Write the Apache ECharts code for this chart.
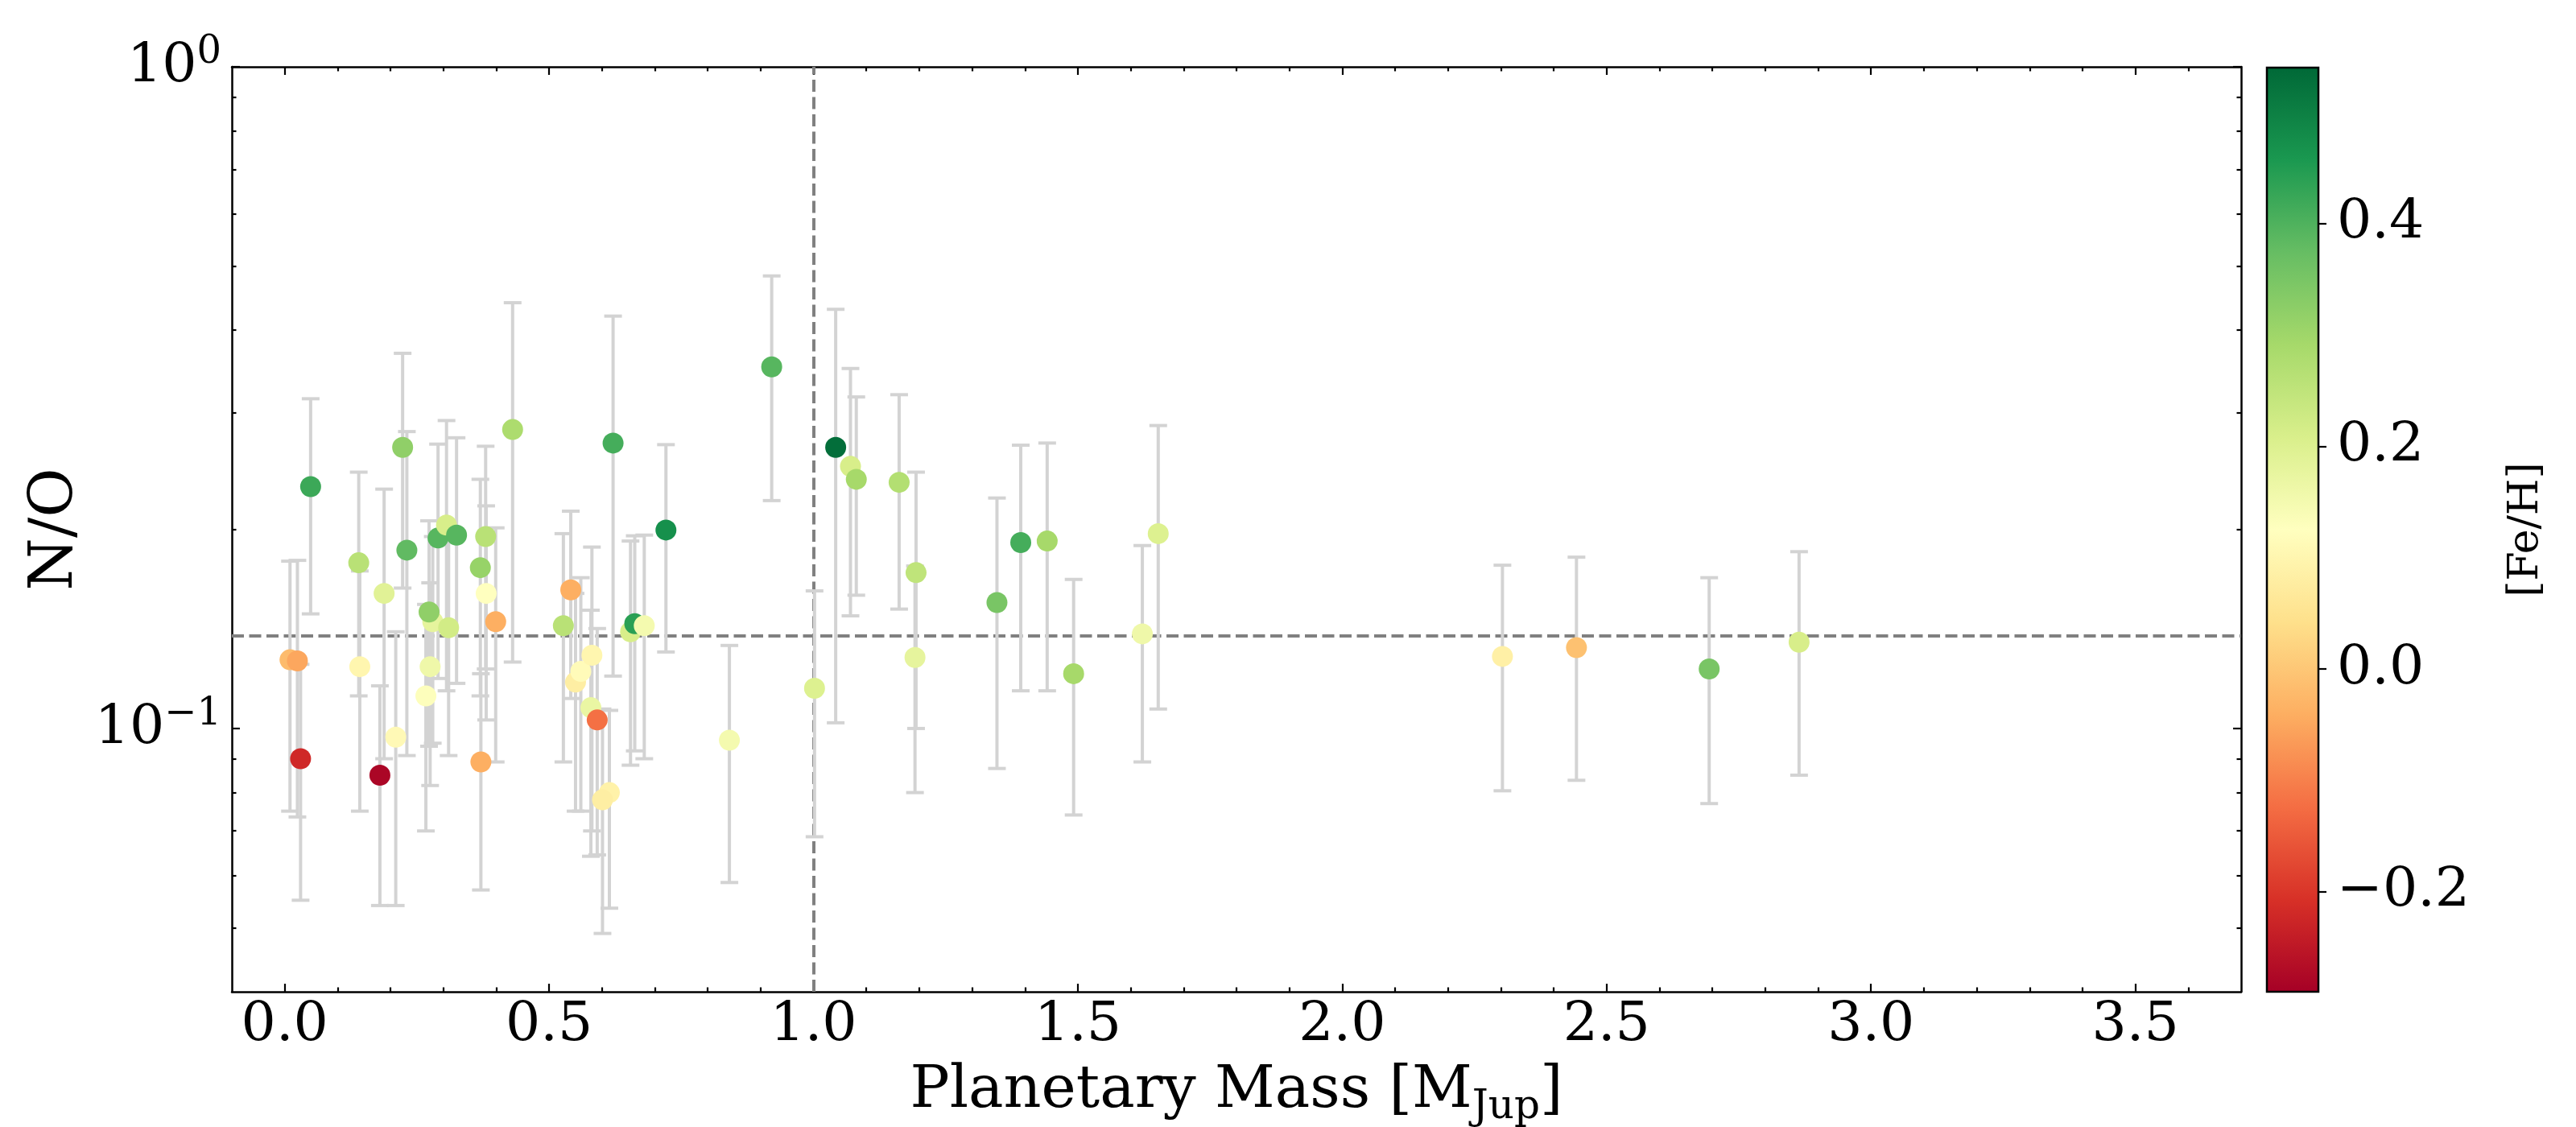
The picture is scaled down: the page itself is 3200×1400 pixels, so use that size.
<!DOCTYPE html>
<html>
<head>
<meta charset="utf-8">
<script src="https://cdn.jsdelivr.net/npm/echarts@6.0.0/dist/echarts.min.js"></script>
<style>
  html, body { margin: 0; padding: 0; background: #fff; }
  #main { width: 3200px; height: 1400px; }
</style>
</head>
<body>
<div id="main"></div>
<script>
var myChart = echarts.init(document.getElementById('main'));

// planet mass [M_Jup]
const massJup = [
  0.010, 0.024, 0.030, 0.049, 0.140, 0.142, 0.180, 0.188, 0.210, 0.223,
  0.231, 0.267, 0.280, 0.273, 0.275, 0.290, 0.306, 0.310, 0.325, 0.370,
  0.371, 0.380, 0.381, 0.399, 0.431, 0.527, 0.541, 0.550, 0.560, 0.579,
  0.581, 0.591, 0.614, 0.601, 0.621, 0.654, 0.662, 0.680, 0.721, 0.841,
  0.921, 1.002, 1.042, 1.070, 1.081, 1.162, 1.192, 1.194, 1.347, 1.392,
  1.442, 1.492, 1.622, 1.652, 2.303, 2.443, 2.694, 2.864
];
// N/O ratio
const nOverO = [
  0.127, 0.1265, 0.090, 0.232, 0.178, 0.124, 0.085, 0.160, 0.097, 0.266,
  0.186, 0.112, 0.145, 0.150, 0.124, 0.194, 0.203, 0.142, 0.196, 0.175,
  0.089, 0.195, 0.160, 0.145, 0.283, 0.143, 0.162, 0.1175, 0.122, 0.1075,
  0.129, 0.103, 0.080, 0.078, 0.270, 0.140, 0.144, 0.143, 0.1995, 0.096,
  0.352, 0.115, 0.266, 0.249, 0.238, 0.2355, 0.128, 0.172, 0.155, 0.191,
  0.192, 0.121, 0.139, 0.197, 0.1285, 0.1325, 0.123, 0.135
];
// symmetric 1-sigma error on N/O
const nOverOErr = [
  0.052, 0.053, 0.035, 0.083, 0.066, 0.049, 0.031, 0.070, 0.043, 0.103,
  0.095, 0.042, 0.050, 0.056, 0.042, 0.075, 0.089, 0.051, 0.079, 0.063,
  0.032, 0.072, 0.057, 0.056, 0.157, 0.054, 0.051, 0.0425, 0.047, 0.0434,
  0.059, 0.0386, 0.0265, 0.029, 0.150, 0.052, 0.0515, 0.053, 0.069, 0.0375,
  0.131, 0.0464, 0.164, 0.101, 0.079, 0.084, 0.048, 0.072, 0.068, 0.077,
  0.078, 0.047, 0.050, 0.090, 0.048, 0.049, 0.046, 0.050
];
// stellar metallicity [Fe/H]
const feH = [
  -0.02, -0.05, -0.22, 0.42, 0.26, 0.10, -0.28, 0.19, 0.11, 0.32,
  0.38, 0.13, 0.18, 0.32, 0.16, 0.39, 0.21, 0.22, 0.39, 0.31,
  -0.04, 0.26, 0.125, -0.04, 0.28, 0.26, -0.04, 0.08, 0.115, 0.17,
  0.10, -0.12, 0.09, 0.08, 0.41, 0.21, 0.44, 0.15, 0.47, 0.15,
  0.39, 0.20, 0.53, 0.21, 0.29, 0.27, 0.18, 0.25, 0.35, 0.41,
  0.29, 0.29, 0.16, 0.20, 0.085, -0.01, 0.35, 0.21
];

const solarNO = 0.138;   // horizontal reference
const massRef = 1.0;     // vertical reference

// axis ticks
const xMajor = [0, 0.5, 1, 1.5, 2, 2.5, 3, 3.5];
const xMinor = [0.1, 0.2, 0.3, 0.4, 0.6, 0.7, 0.8, 0.9, 1.1, 1.2, 1.3, 1.4,
  1.6, 1.7, 1.8, 1.9, 2.1, 2.2, 2.3, 2.4, 2.6, 2.7, 2.8, 2.9, 3.1, 3.2, 3.3, 3.4, 3.6];
const yMajor = [0.1, 1];
const yMinor = [0.05, 0.06, 0.07, 0.08, 0.09, 0.2, 0.3, 0.4, 0.5, 0.6, 0.7, 0.8, 0.9];
const cbTicks = [-0.2, 0, 0.2, 0.4];

const cbMin = -0.29, cbMax = 0.54;
const rdylgn = ['#a50026', '#d73027', '#f46d43', '#fdae61', '#fee08b', '#ffffbf',
  '#d9ef8b', '#a6d96a', '#66bd63', '#1a9850', '#006837'];

const FONT = 'DejaVu Serif';
const xMin = -0.1, xMax = 3.7;
const yMin = Math.log10(0.04), yMax = 0;

const scatterData = massJup.map(function (m, i) {
  return [m, Math.log10(nOverO[i]), feH[i]];
});
const errData = massJup.map(function (m, i) {
  return [m, Math.log10(nOverO[i] - nOverOErr[i]), Math.log10(nOverO[i] + nOverOErr[i])];
});

function xAx(pos, ticks, len, line, label) {
  return {
    type: 'value', gridIndex: 0, position: pos, min: xMin, max: xMax,
    axisLine: { show: line, onZero: false, lineStyle: { color: '#000', width: 2.5 } },
    axisTick: { show: true, inside: true, length: len, customValues: ticks,
      lineStyle: { color: '#000', width: 2.2 } },
    axisLabel: label || { show: false },
    splitLine: { show: false }
  };
}
function yAx(pos, ticks, len, line, label) {
  return {
    type: 'value', gridIndex: 0, position: pos, min: yMin, max: yMax,
    axisLine: { show: line, onZero: false, lineStyle: { color: '#000', width: 2.5 } },
    axisTick: { show: true, inside: true, length: len, customValues: ticks.map(Math.log10),
      lineStyle: { color: '#000', width: 2.2 } },
    axisLabel: label || { show: false },
    splitLine: { show: false }
  };
}

var xBottom = xAx('bottom', xMajor, 10, true, {
  show: true, customValues: xMajor, margin: 8,
  fontSize: 68, fontFamily: FONT, color: '#000',
  formatter: function (v) { return v.toFixed(1); }
});
xBottom.name = '{a|Planetary Mass [M}{sub|Jup}{a|]}';
xBottom.nameLocation = 'middle';
xBottom.nameGap = 80;
xBottom.nameTextStyle = {
  rich: {
    a: { fontSize: 73, lineHeight: 89, fontFamily: FONT, color: '#000' },
    sub: { fontSize: 50, lineHeight: 50, verticalAlign: 'bottom', fontFamily: FONT, color: '#000' }
  }
};

var yLeft = yAx('left', yMajor, 10, true, {
  show: true, customValues: yMajor.map(Math.log10), margin: 13,
  formatter: function (v) {
    var e = Math.round(v);
    return '{b|10}{s|' + (e < 0 ? '\u2212' + (-e) : e) + '}';
  },
  rich: {
    b: { fontSize: 68, lineHeight: 83, fontFamily: FONT, color: '#000' },
    s: { fontSize: 48, lineHeight: 48, verticalAlign: 'top', fontFamily: FONT, color: '#000' }
  }
});
yLeft.name = 'N/O';
yLeft.nameLocation = 'middle';
yLeft.nameGap = 178;
yLeft.nameTextStyle = { fontSize: 75, fontFamily: FONT, color: '#000' };

const option = {
  animation: false,
  backgroundColor: '#fff',
  textStyle: { fontFamily: FONT },
  grid: [
    { left: 288, top: 83, width: 2496, height: 1149, containLabel: false, outerBoundsMode: 'none' },
    { left: 2816, top: 84, width: 64, height: 1148, containLabel: false, outerBoundsMode: 'none' }
  ],
  xAxis: [
    xBottom,
    xAx('bottom', xMinor, 5.5, false),
    xAx('top', xMajor, 10, true),
    xAx('top', xMinor, 5.5, false),
    { type: 'value', gridIndex: 1, min: 0, max: 1, show: false }
  ],
  yAxis: [
    yLeft,
    yAx('left', yMinor, 5.5, false),
    yAx('right', yMajor, 10, true),
    yAx('right', yMinor, 5.5, false),
    {
      type: 'value', gridIndex: 1, position: 'right', min: cbMin, max: cbMax,
      axisLine: { show: false, onZero: false },
      axisTick: { show: true, inside: false, length: 10, customValues: cbTicks,
        lineStyle: { color: '#000', width: 2.2 } },
      axisLabel: { show: true, customValues: cbTicks, margin: 23,
        fontSize: 68, fontFamily: FONT, color: '#000',
        formatter: function (v) { return (v < 0 ? '\u2212' : '') + Math.abs(v).toFixed(1); } },
      splitLine: { show: false },
      name: '[Fe/H]', nameLocation: 'middle', nameRotate: 90, nameGap: 232,
      nameTextStyle: { fontSize: 52, fontFamily: FONT, color: '#000' }
    }
  ],
  visualMap: {
    type: 'continuous', show: false, seriesIndex: 1, dimension: 2,
    min: cbMin, max: cbMax, inRange: { color: rdylgn }
  },
  series: [
    {
      type: 'custom',
      name: 'err',
      xAxisIndex: 0, yAxisIndex: 0,
      z: 2,
      silent: true,
      renderItem: function (params, api) {
        var lo = api.coord([api.value(0), api.value(1)]);
        var hi = api.coord([api.value(0), api.value(2)]);
        var cap = 11;
        var style = { stroke: '#d3d3d3', lineWidth: 4 };
        return {
          type: 'group',
          children: [
            { type: 'line', shape: { x1: lo[0], y1: lo[1], x2: hi[0], y2: hi[1] }, style: style },
            { type: 'line', shape: { x1: lo[0] - cap, y1: lo[1], x2: lo[0] + cap, y2: lo[1] }, style: style },
            { type: 'line', shape: { x1: hi[0] - cap, y1: hi[1], x2: hi[0] + cap, y2: hi[1] }, style: style }
          ]
        };
      },
      encode: { x: 0, y: [1, 2] },
      data: errData
    },
    {
      type: 'scatter',
      name: 'planets',
      xAxisIndex: 0, yAxisIndex: 0,
      z: 3,
      symbol: 'circle',
      symbolSize: 26,
      itemStyle: { opacity: 1 },
      data: scatterData
    },
    {
      type: 'scatter',
      name: 'refs',
      xAxisIndex: 0, yAxisIndex: 0,
      z: 1,
      data: [],
      markLine: {
        z: 1,
        silent: true,
        symbol: 'none',
        label: { show: false },
        lineStyle: { type: [15, 6.5], color: '#808080', width: 4 },
        data: [
          { yAxis: Math.log10(solarNO) },
          { xAxis: massRef }
        ]
      }
    },
    {
      type: 'custom',
      name: 'colorbar',
      xAxisIndex: 4, yAxisIndex: 4,
      silent: true,
      renderItem: function (params, api) {
        var a = api.coord([api.value(0), api.value(3)]);
        var b = api.coord([api.value(2), api.value(1)]);
        var stops = rdylgn.map(function (c, i) {
          return { offset: i / (rdylgn.length - 1), color: c };
        });
        return {
          type: 'rect',
          shape: { x: a[0], y: a[1], width: b[0] - a[0], height: b[1] - a[1] },
          style: { fill: new echarts.graphic.LinearGradient(0, 1, 0, 0, stops), stroke: '#000', lineWidth: 2.5 }
        };
      },
      data: [[0, cbMin, 1, cbMax]]
    }
  ]
};

myChart.setOption(option);
</script>
</body>
</html>
